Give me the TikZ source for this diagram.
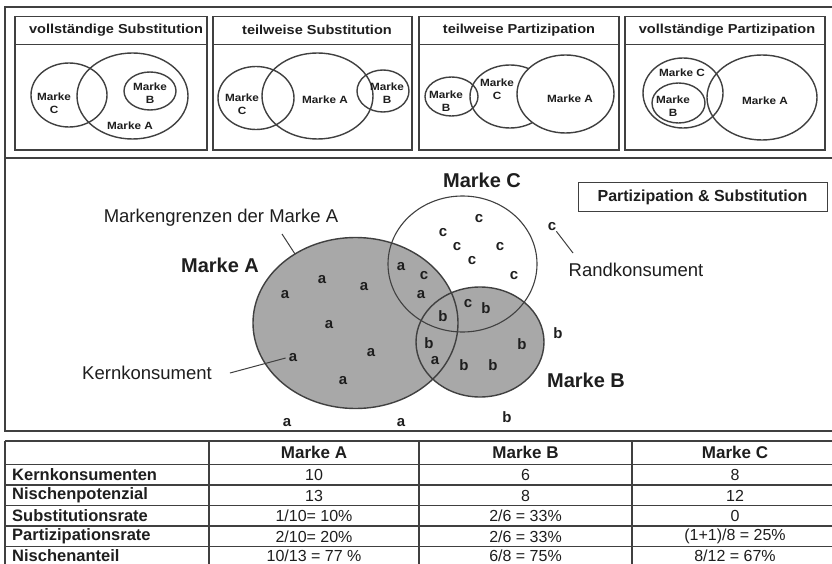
\documentclass[tikz,border=0pt]{standalone}
\usepackage{fontspec}
\setmainfont{Liberation Sans}
\newfontfamily\widefont{Liberation Sans}[FakeStretch=1.12]
\definecolor{ink}{HTML}{1E1E1E}
\definecolor{linec}{HTML}{404040}
\definecolor{brandgrey}{HTML}{A8A8A8}
\tikzset{
  frame/.style={draw=linec, line width=1.1pt},
  venn/.style={draw=linec, line width=1.4pt},
  ttl/.style={text=ink, inner sep=0pt, font=\widefont\bfseries\fontsize{13}{15}\selectfont},
  lbl/.style={text=ink, inner sep=0pt, align=center, font=\widefont\bfseries\fontsize{10.5}{13}\selectfont},
  ltr/.style={text=ink, inner sep=0pt, font=\bfseries\fontsize{15}{15}\selectfont},
  bigname/.style={text=ink, inner sep=0pt, font=\bfseries\fontsize{20}{22}\selectfont},
  note/.style={text=ink, inner sep=0pt, font=\fontsize{18.5}{20}\selectfont},
  leader/.style={draw=linec, line width=1pt},
  rowhead/.style={text=ink, inner sep=0pt, anchor=west, font=\bfseries\fontsize{16.5}{18}\selectfont},
  colhead/.style={text=ink, inner sep=0pt, font=\bfseries\fontsize{17}{19}\selectfont},
  cell/.style={text=ink, inner sep=0pt, font=\fontsize{16}{18}\selectfont},
}
\begin{document}
\begin{tikzpicture}[x=1pt, y=-1pt]
\useasboundingbox[fill=white] (0,0) rectangle (832,564);

% ---------- upper panel: four kinds of overlap ----------
\draw[frame] (5,7) rectangle (845,158);
\foreach \l/\r in {15/207, 213/412, 419/619, 625/825}{
  \draw[frame] (\l,16.5) rectangle (\r,150);
  \draw[frame] (\l,44.5) -- (\r,44.5);
}
\node[ttl] (t1) at (116,30) {vollständige Substitution};
\node[ttl] (t2) at (317,30) {teilweise Substitution};
\node[ttl] (t3) at (519,30) {teilweise Partizipation};
\node[ttl] (t4) at (727,30) {vollständige Partizipation};

% vollständige Substitution
\draw[venn] (69,95) ellipse [x radius=38pt, y radius=32pt];
\draw[venn] (132.5,96) ellipse [x radius=55.5pt, y radius=43pt];
\draw[venn] (150,91) ellipse [x radius=26pt, y radius=19pt];
\node[lbl] (s1c) at (54,103.5) {Marke\\C};
\node[lbl] (s1b) at (150,93.5) {Marke\\B};
\node[lbl] (s1a) at (130,126) {Marke A};

% teilweise Substitution
\draw[venn] (256,98) ellipse [x radius=38pt, y radius=31.5pt];
\draw[venn] (317.5,96) ellipse [x radius=55.5pt, y radius=43pt];
\draw[venn] (383,91) ellipse [x radius=26pt, y radius=21pt];
\node[lbl] (s2c) at (242,104) {Marke\\C};
\node[lbl] (s2a) at (325,100) {Marke A};
\node[lbl] (s2b) at (387,93) {Marke\\B};

% teilweise Partizipation
\draw[venn] (510,96.5) ellipse [x radius=40pt, y radius=31.5pt];
\draw[venn, fill=white] (565.5,94) ellipse [x radius=48.5pt, y radius=39pt];
\draw[venn] (451.5,96.5) ellipse [x radius=26.5pt, y radius=19.5pt];
\node[lbl] (p1b) at (446,101) {Marke\\B};
\node[lbl] (p1c) at (497,89.5) {Marke\\C};
\node[lbl] (p1a) at (570,99) {Marke A};

% vollständige Partizipation
\draw[venn] (683,93) ellipse [x radius=40pt, y radius=35pt];
\draw[venn] (678.5,103) ellipse [x radius=26.5pt, y radius=20pt];
\draw[venn] (762,97.5) ellipse [x radius=55pt, y radius=42.5pt];
\node[lbl] (p2c) at (682,73) {Marke C};
\node[lbl] (p2b) at (673,106) {Marke\\B};
\node[lbl] (p2a) at (765,101) {Marke A};

% ---------- middle panel: consumers of three brands ----------
\draw[frame] (5,158) rectangle (845,431);
\node[draw=linec, line width=1pt, minimum width=249pt, minimum height=28pt,
      text=ink, font=\bfseries\fontsize{16}{18}\selectfont] (ps) at (702.5,197)
      {Partizipation \& Substitution};

\fill[brandgrey] (355.5,323) ellipse [x radius=102.5pt, y radius=85.5pt];
\fill[brandgrey] (480,342) ellipse [x radius=64pt, y radius=55pt];
\draw[venn] (355.5,323) ellipse [x radius=102.5pt, y radius=85.5pt];
\draw[venn] (480,342) ellipse [x radius=64pt, y radius=55pt];
\draw[draw=linec, line width=1.1pt] (462.5,264) ellipse [x radius=74.5pt, y radius=68pt];

\foreach \x/\y [count=\i] in {285/295, 322/280, 364/287, 329/325, 371/353, 293/358,
    343/381, 401/267, 421/295, 435/361, 287/423, 401/423}
  \node[ltr] (a\i) at (\x,\y) {a};
\foreach \x/\y [count=\i] in {479/219, 443/233, 457/247, 500/247, 472/261, 514/276,
    424/276, 468/304, 552/227}
  \node[ltr] (c\i) at (\x,\y) {c};
\foreach \x/\y [count=\i] in {443/316, 486/308, 429/343, 464/365, 493/365, 522/344,
    558/333, 507/417}
  \node[ltr] (b\i) at (\x,\y) {b};

\node[bigname] (nA) at (220,265) {Marke A};
\node[bigname] (nC) at (482,180) {Marke C};
\node[bigname] (nB) at (586,380) {Marke B};

\node[note] (mg) at (221,218) {Markengrenzen der Marke A};
\coordinate (mgS) at (282,234);
\coordinate (mgE) at (295,254);
\draw[leader] (mgS) -- (mgE);

\node[note] (kk) at (147,373) {Kernkonsument};
\draw[leader] ([xshift=18pt]kk.east) -- ([xshift=-3pt]a6.west);

\node[note] (rk) at (636,270) {Randkonsument};
\coordinate (rkE) at (573,253);
\draw[leader] (c9.south east) -- (rkE);

% ---------- table ----------
\foreach \y in {441, 464.5, 485, 505.5, 526, 546.5}
  \draw[frame] (5,\y) -- (845,\y);
\foreach \x in {5, 209, 419, 632}
  \draw[frame] (\x,441) -- (\x,570);

\node[colhead] (hA) at (314,452.5) {Marke A};
\node[colhead] (hB) at (525.5,452.5) {Marke B};
\node[colhead] (hC) at (735,452.5) {Marke C};

\node[rowhead] (r1) at (12,475) {Kernkonsumenten};
\node[rowhead] (r2) at (12,495.5) {Nischenpotenzial};
\node[rowhead] (r3) at (12,516) {Substitutionsrate};
\node[rowhead] (r4) at (12,536.5) {Partizipationsrate};
\node[rowhead] (r5) at (12,555.5) {Nischenanteil};

\node[cell] (v1a) at (314,475) {10};
\node[cell] (v1b) at (525.5,475) {6};
\node[cell] (v1c) at (735,475) {8};
\node[cell] (v2a) at (314,495.5) {13};
\node[cell] (v2b) at (525.5,495.5) {8};
\node[cell] (v2c) at (735,495.5) {12};
\node[cell] (v3a) at (314,516) {1/10= 10\%};
\node[cell] (v3b) at (525.5,516) {2/6 = 33\%};
\node[cell] (v3c) at (735,516) {0};
\node[cell] (v4a) at (314,536.5) {2/10= 20\%};
\node[cell] (v4b) at (525.5,536.5) {2/6 = 33\%};
\node[cell] (v4c) at (735,536.5) {(1+1)/8 = 25\%};
\node[cell] (v5a) at (314,555.5) {10/13 = 77 \%};
\node[cell] (v5b) at (525.5,555.5) {6/8 = 75\%};
\node[cell] (v5c) at (735,555.5) {8/12 = 67\%};
\end{tikzpicture}
\end{document}
